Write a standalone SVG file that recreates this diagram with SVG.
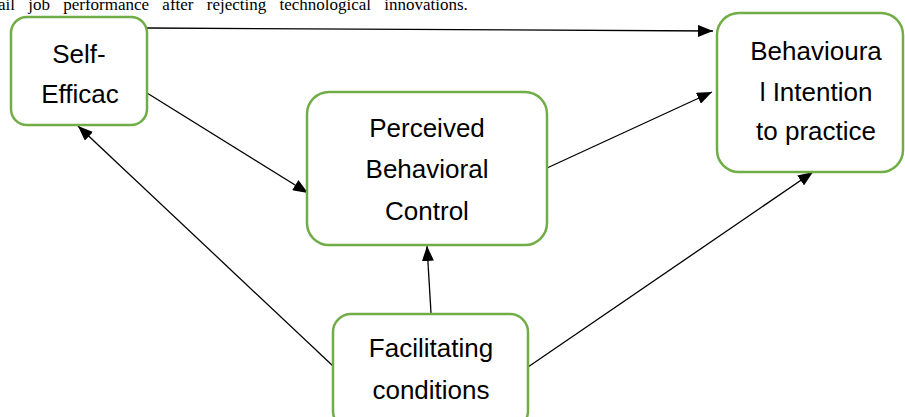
<svg xmlns="http://www.w3.org/2000/svg" width="905" height="417" viewBox="0 0 905 417">
<style>
.box{fill:#fff;stroke:#70AD47;stroke-width:2.5}
.lbl{font-family:"Liberation Sans",Arial,sans-serif;font-size:26px;fill:#000;text-anchor:middle}
.con{stroke:#000;stroke-width:1.3;fill:none;marker-end:url(#ah)}
.top{font-family:"Liberation Serif","Times New Roman",serif;font-size:17px;word-spacing:9px;fill:#000}
</style>
<defs>
<marker id="ah" markerUnits="userSpaceOnUse" markerWidth="16" markerHeight="12" refX="15" refY="6" orient="auto">
<path d="M0,0 L15,6 L0,12 z" fill="#000"/>
</marker>
</defs>
<rect width="905" height="417" fill="#fff"/>
<text class="top" x="-2" y="10">ail job performance after rejecting technological innovations.</text>
<g id="connectors">
<line class="con" x1="147" y1="28" x2="713" y2="31"/>
<line class="con" x1="147" y1="93" x2="308" y2="193"/>
<line class="con" x1="547" y1="168" x2="712" y2="92"/>
<line class="con" x1="333" y1="366" x2="78" y2="126"/>
<line class="con" x1="431" y1="313" x2="427" y2="246"/>
<line class="con" x1="528" y1="367" x2="813" y2="172"/>
</g>
<g id="self-efficacy">
<rect class="box" x="11" y="17" width="136" height="108" rx="16"/>
<text class="lbl" x="79" y="63">Self-</text>
<text class="lbl" x="80" y="103">Efficac</text>
</g>
<g id="behavioural-intention">
<rect class="box" x="717" y="13" width="186" height="159" rx="22"/>
<text class="lbl" x="816" y="60">Behavioura</text>
<text class="lbl" x="816" y="101">l Intention</text>
<text class="lbl" x="816" y="140">to practice</text>
</g>
<g id="perceived-behavioral-control">
<rect class="box" x="307" y="92" width="240" height="153" rx="22"/>
<text class="lbl" x="427" y="137">Perceived</text>
<text class="lbl" x="427" y="178">Behavioral</text>
<text class="lbl" x="427" y="220">Control</text>
</g>
<g id="facilitating-conditions">
<rect class="box" x="333" y="314" width="195" height="115" rx="18"/>
<text class="lbl" x="431" y="357">Facilitating</text>
<text class="lbl" x="431" y="399">conditions</text>
</g>
</svg>
